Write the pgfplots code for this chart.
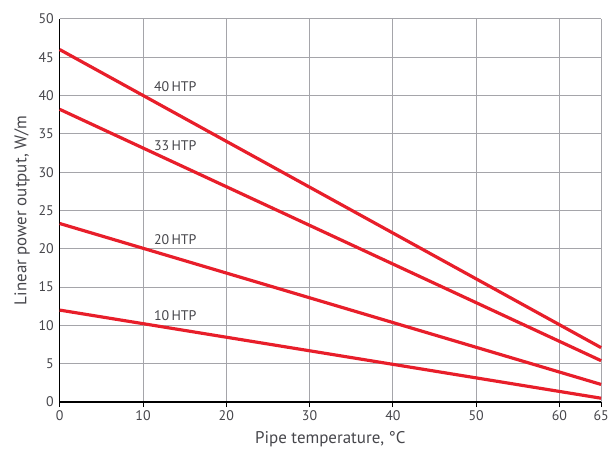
\documentclass[border=0pt]{standalone}
\usepackage{fontspec}
\setmainfont{PT Sans}
\usepackage{pgfplots}
\pgfplotsset{compat=1.18}
\definecolor{linered}{RGB}{232,30,42}
\definecolor{gridgray}{RGB}{165,165,170}
\definecolor{txtgray}{RGB}{70,70,75}
\tikzset{htp/.style={draw=linered, line width=3.2pt, mark=none}}
\begin{document}
\begin{tikzpicture}
\begin{axis}[
  scale only axis, width=544pt, height=385pt,
  xmin=0, xmax=65, ymin=0, ymax=50,
  xtick={0,10,20,30,40,50,60,65},
  ytick={0,5,...,50},
  axis lines=left, axis line style={black, line width=1.2pt, -},
  grid=major, major grid style={gridgray, line width=0.9pt},
  tick style={black, line width=0.8pt},
  xtick align=outside, ytick style={draw=none},
  major tick length=5pt,
  /pgf/number format/assume math mode=true,
  tick label style={font=\fontsize{14}{14}\selectfont, text=txtgray},
  xlabel={Pipe temperature, °C}, ylabel={Linear power output, W/m},
  label style={font=\fontsize{17}{17}\selectfont, text=txtgray},
  xlabel style={yshift=-4pt}, ylabel style={yshift=2pt},
  clip=false,
]
\addplot[htp] coordinates {(0,46.0) (65,7.1)};
\addplot[htp] coordinates {(0,38.2) (65,5.4)};
\addplot[htp] coordinates {(0,23.3) (65,2.3)};
\addplot[htp] coordinates {(0,12.0) (65,0.5)};
\begin{scope}[every node/.style={anchor=west, font=\fontsize{14}{14}\selectfont, text=txtgray, inner sep=0pt}]
\node at (axis cs:11.3,41.2) {40\,HTP};
\node at (axis cs:11.3,33.5) {33\,HTP};
\node at (axis cs:11.3,21.2) {20\,HTP};
\node at (axis cs:11.3,11.3) {10\,HTP};
\end{scope}
\end{axis}
\path[use as bounding box] (current axis.south west) ++(-60pt,-64pt) rectangle ++(612pt,468pt);
\end{tikzpicture}
\end{document}
